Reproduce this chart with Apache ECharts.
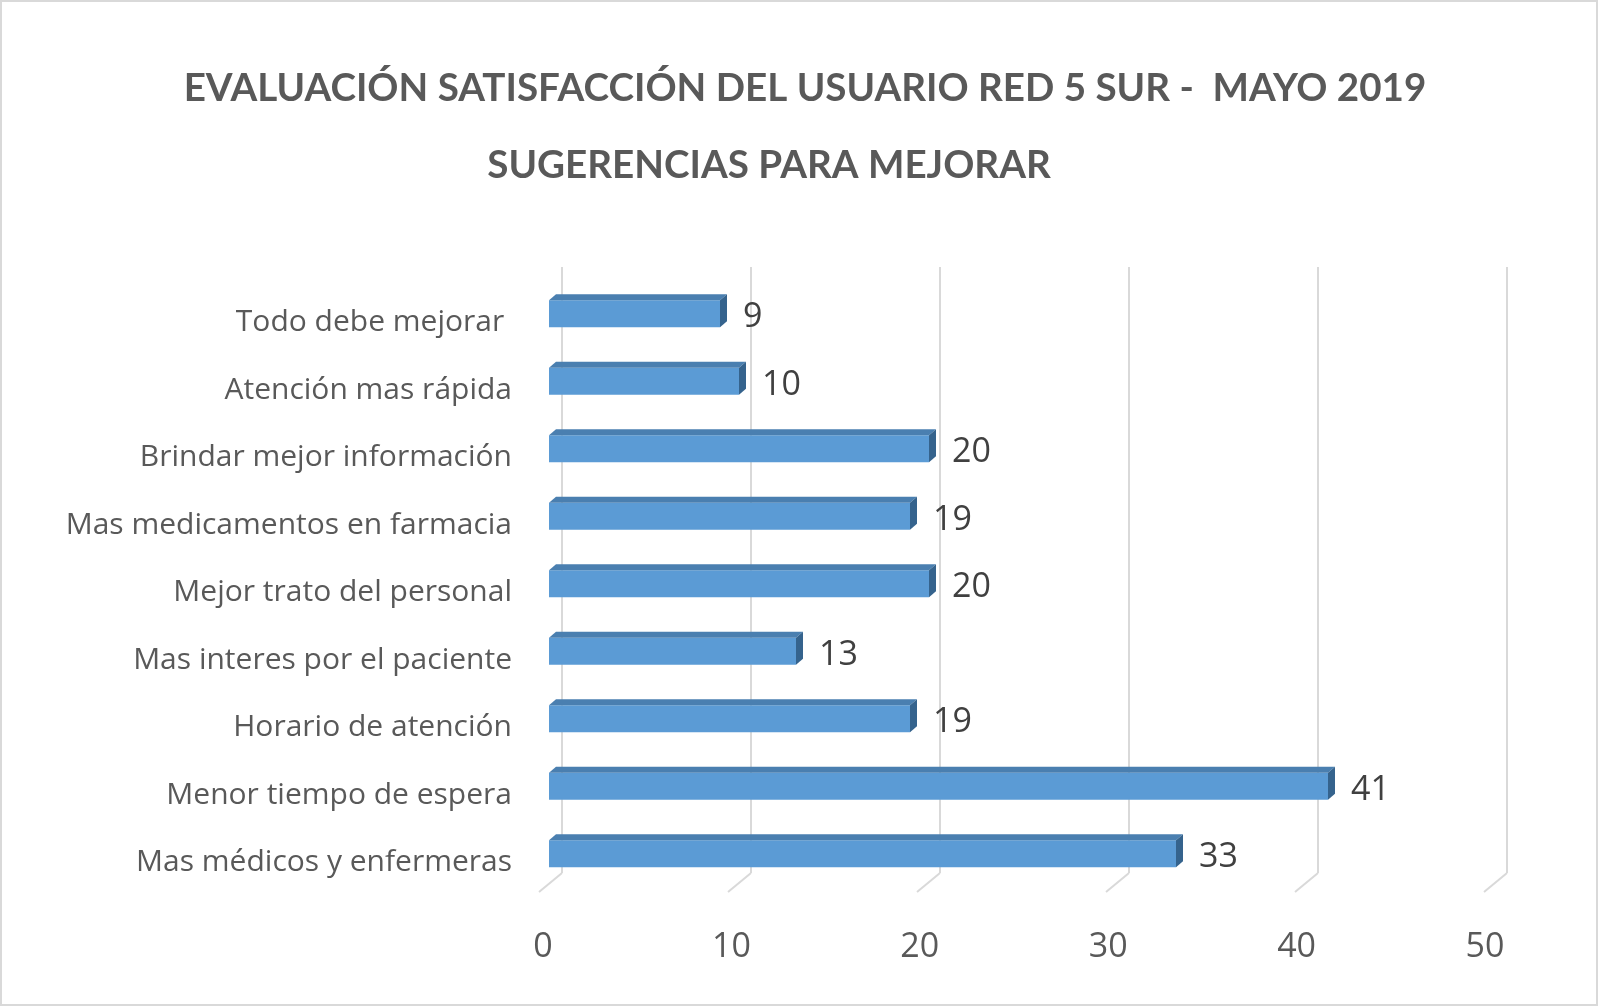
<!DOCTYPE html>
<html>
<head>
    <meta charset="utf-8">
    <title>Sugerencias para mejorar</title>
    <script src="https://cdn.jsdelivr.net/npm/echarts@6/dist/echarts.min.js"></script>
    <style>
        html, body { margin: 0; padding: 0; background: #fff; }
        #chart { width: 1598px; height: 1006px; box-sizing: border-box; border: 2px solid #d9d9d9; }
    </style>
</head>
<body>
<div id="chart"></div>
<script type="text/javascript">
// datos (de arriba hacia abajo)
var categorias = ['Todo debe mejorar ', 'Atención mas rápida', 'Brindar mejor información', 'Mas medicamentos en farmacia',
    'Mejor trato del personal', 'Mas interes por el paciente', 'Horario de atención', 'Menor tiempo de espera', 'Mas médicos y enfermeras'];
var valores = [9, 10, 20, 19, 20, 13, 19, 41, 33];
var ticks = [0, 10, 20, 30, 40, 50];

var titulo = 'EVALUACIÓN SATISFACCIÓN DEL USUARIO RED 5 SUR -  MAYO 2019';
var subtitulo = 'SUGERENCIAS PARA MEJORAR';

var FONT = '"Open Sans"';
var myChart = echarts.init(document.getElementById('chart'));

// barras con efecto 3D: cara frontal, superior y lateral
function renderBar(params, api) {
    var idx = api.value(0);
    var val = api.value(1);
    var p0 = api.coord([0, idx]);
    var p1 = api.coord([val, idx]);
    var h = api.size([0, 1])[1] * 0.4;
    var dx = 7, dy = -6;
    var x0 = p0[0], x1 = p1[0], yt = p0[1] - h / 2, yb = p0[1] + h / 2;
    return {
        type: 'group',
        children: [
            { type: 'rect', shape: { x: x0, y: yt, width: x1 - x0, height: h }, style: { fill: '#5b9bd5' } },
            { type: 'polygon', shape: { points: [[x0, yt], [x0 + dx, yt + dy], [x1 + dx, yt + dy], [x1, yt]] }, style: { fill: '#4a7fb0' } },
            { type: 'polygon', shape: { points: [[x1, yt], [x1 + dx, yt + dy], [x1 + dx, yb + dy], [x1, yb]] }, style: { fill: '#35638d' } },
            { type: 'text', style: { text: String(val), x: x1 + 23, y: p0[1] + 4, verticalAlign: 'middle', align: 'left',
                font: '34px ' + FONT, fill: '#404040' } }
        ]
    };
}

// lineas diagonales del piso
function renderFloor(params, api) {
    var p = api.coord([api.value(0), 0]);
    return { type: 'line', shape: { x1: p[0], y1: p[1], x2: p[0] - 23, y2: p[1] + 19 },
        style: { stroke: '#d9d9d9', lineWidth: 2 } };
}

myChart.setOption({
    backgroundColor: '#ffffff',
    title: [
        { text: titulo, left: 798, top: 62, textAlign: 'center',
          textStyle: { fontFamily: 'Lato', fontSize: 38.6, fontWeight: 'bold', color: '#595959' } },
        { text: subtitulo, left: 762, top: 139, textAlign: 'center',
          textStyle: { fontFamily: 'Lato', fontSize: 38.6, fontWeight: 'bold', color: '#595959' } }
    ],
    grid: [
        { left: 560, top: 265, width: 945, height: 606 },   // pared del fondo
        { left: 547, top: 278, width: 950, height: 607.5 }, // plano de las barras
        { left: 541, top: 890, width: 942, height: 1 }      // borde del piso (etiquetas)
    ],
    xAxis: [
        { gridIndex: 0, type: 'value', min: 0, max: 50, interval: 10,
          axisLine: { show: false }, axisTick: { show: false }, axisLabel: { show: false },
          splitLine: { lineStyle: { color: '#d9d9d9', width: 2 } } },
        { gridIndex: 1, type: 'value', min: 0, max: 50, interval: 10, show: false },
        { gridIndex: 2, type: 'value', min: 0, max: 50, interval: 10,
          axisLine: { show: false }, axisTick: { show: false }, splitLine: { show: false },
          axisLabel: { margin: 37, fontFamily: FONT, fontSize: 34, color: '#595959',
              formatter: function (v) { return ticks.indexOf(v) >= 0 ? String(v) : ''; } } }
    ],
    yAxis: [
        { gridIndex: 0, type: 'value', min: 0, max: 1, show: false },
        { gridIndex: 1, type: 'category', data: categorias, inverse: true,
          axisLine: { show: false }, axisTick: { show: false },
          axisLabel: { margin: 37, fontFamily: FONT, fontSize: 30, color: '#595959',
              verticalAlign: 'top', lineHeight: 18 } },
        { gridIndex: 2, type: 'value', show: false }
    ],
    series: [
        { type: 'custom', xAxisIndex: 0, yAxisIndex: 0, renderItem: renderFloor, data: ticks.map(function (t) { return [t]; }),
          silent: true },
        { type: 'custom', xAxisIndex: 1, yAxisIndex: 1, renderItem: renderBar,
          encode: { x: 1, y: 0 },
          data: valores.map(function (v, i) { return [i, v]; }) }
    ]
});
</script>
</body>
</html>
